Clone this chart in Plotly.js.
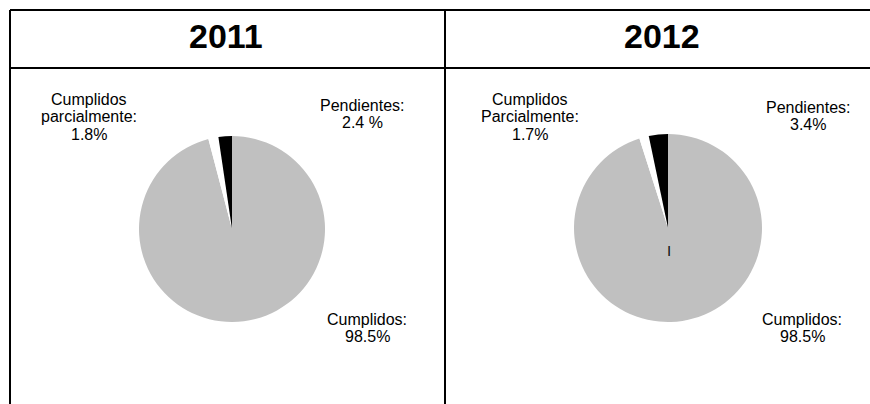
<!DOCTYPE html>
<html>
<head>
<meta charset="utf-8">
<script src="https://cdn.plot.ly/plotly-3.0.1.min.js"></script>
<style>html,body{margin:0;padding:0;background:#fff;}#chart{width:870px;height:404px;}</style>
</head>
<body>
<div id="chart"></div>
<script>
// Data (clockwise order from 12 o'clock)
const years = ["2011", "2012"];
const categories = ["Cumplidos", "Cumplidos parcialmente", "Pendientes"];
const values2011 = [98.5, 1.8, 2.4];
const values2012 = [98.5, 1.7, 3.4];
const labels2011 = [["Cumplidos:", "98.5%"], ["Cumplidos", "parcialmente:", "1.8%"], ["Pendientes:", "2.4 %"]];
const labels2012 = [["Cumplidos:", "98.5%"], ["Cumplidos", "Parcialmente:", "1.7%"], ["Pendientes:", "3.4%"]];
const sliceColors = ["#c0c0c0", "#ffffff", "#000000"];

const W = 870, H = 404;
const px = x => x / W;
const py = y => 1 - y / H;

function pieTrace(vals, x0, x1, y0, y1) {
  return {
    type: "pie",
    values: vals,
    labels: categories,
    sort: false,
    direction: "clockwise",
    rotation: 0,
    textinfo: "none",
    hoverinfo: "skip",
    showlegend: false,
    marker: {colors: sliceColors, line: {width: 0}},
    domain: {x: [px(x0), px(x1)], y: [py(y1), py(y0)]}
  };
}

const data = [
  pieTrace(values2011, 139, 325, 136, 322),
  pieTrace(values2012, 574, 762, 134, 322)
];

const FAM = "Liberation Sans, Arial, sans-serif";
const font = {family: FAM, size: 16, color: "#000"};
function ann(text, x, y, extra) {
  return Object.assign({
    text: text, xref: "paper", yref: "paper", x: px(x), y: py(y),
    xanchor: "center", yanchor: "middle", showarrow: false, font: font, align: "center"
  }, extra || {});
}
function block(lines, cx, cy, step) {
  return lines.map((t, i) => ann(t, cx, cy + i * step));
}

const annotations = [
  ann(years[0], 226, 36, {font: {family: FAM, size: 34, color: "#000", weight: "bold"}}),
  ann(years[1], 662, 36, {font: {family: FAM, size: 34, color: "#000", weight: "bold"}}),
  ...block(labels2011[1], 89, 99, 17.5),
  ...block(labels2011[2], 362, 105, 17),
  ...block(labels2011[0], 367, 319, 17),
  ...block(labels2012[1], 530, 99, 17.5),
  ...block(labels2012[2], 808, 107, 17),
  ...block(labels2012[0], 802, 319, 17),
  ann("I", 669, 250, {font: {family: FAM, size: 15, color: "#111"}})
];

function line(x0, y0, x1, y1) {
  return {type: "line", xref: "paper", yref: "paper", x0: px(x0), y0: py(y0), x1: px(x1), y1: py(y1),
          line: {color: "#000", width: 2}};
}
const shapes = [
  line(10, 10, 870, 10),
  line(10, 10, 10, 404),
  line(445, 10, 445, 404),
  line(10, 68, 870, 68)
];

const layout = {
  width: W, height: H,
  margin: {l: 0, r: 0, t: 0, b: 0},
  paper_bgcolor: "#fff", plot_bgcolor: "#fff",
  showlegend: false,
  annotations: annotations,
  shapes: shapes,
  hovermode: false
};

Plotly.newPlot("chart", data, layout, {displayModeBar: false, staticPlot: true});
</script>
</body>
</html>
